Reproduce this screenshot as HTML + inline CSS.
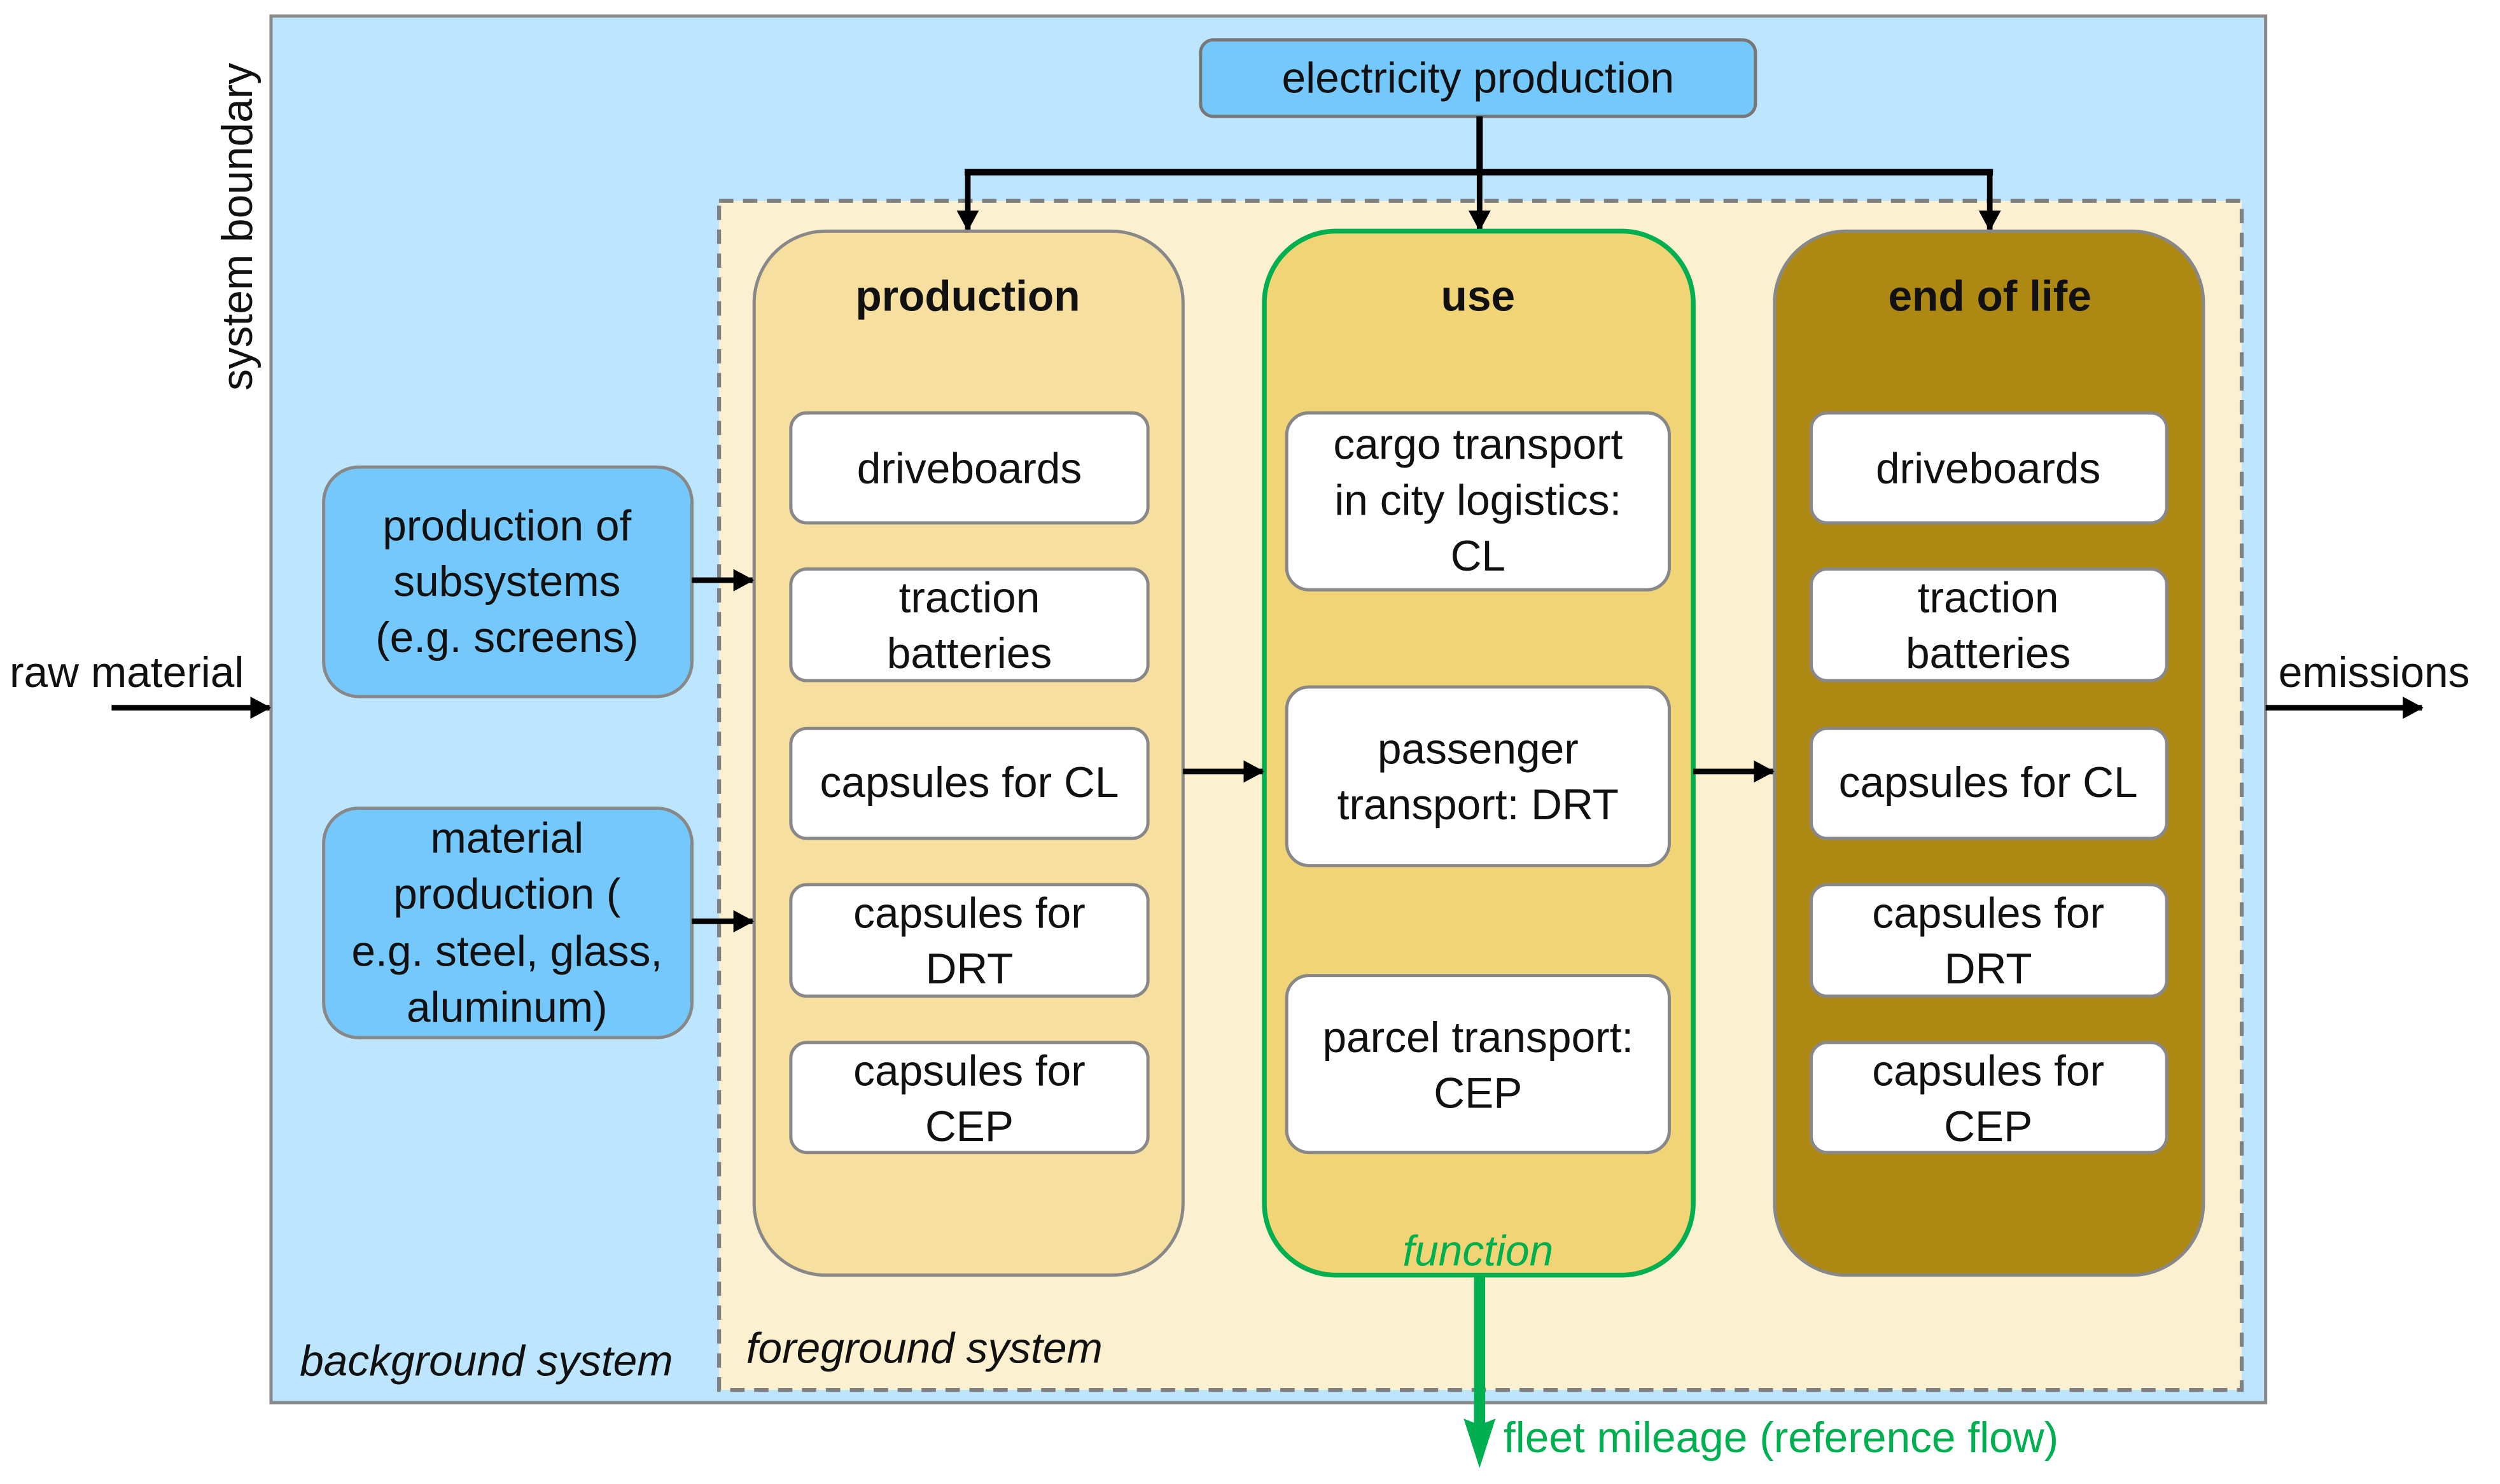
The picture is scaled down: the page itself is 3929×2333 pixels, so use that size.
<!DOCTYPE html>
<html><head><meta charset="utf-8"><style>
html,body{margin:0;padding:0;background:#fff;}
svg{display:block;}
text{font-family:"Liberation Sans",sans-serif;font-size:27px;fill:#111;}
</style></head><body>
<svg width="3929" height="2333" viewBox="0 0 1568 931" xmlns="http://www.w3.org/2000/svg">
<defs>
<marker id="a" markerWidth="14" markerHeight="14" refX="12" refY="7" orient="auto" markerUnits="userSpaceOnUse"><path d="M0,0 L13,7 L0,14 Z" fill="#000"/></marker>
</defs>
<rect x="170" y="10" width="1251" height="870" fill="#bde5fd" stroke="#8a8a8a" stroke-width="2"/>
<text transform="translate(158,245) rotate(-90)">system boundary</text>
<rect x="451" y="126" width="955" height="746" fill="#fbf0d0" stroke="#808080" stroke-width="2.5" stroke-dasharray="9,6"/>
<rect x="753" y="25" width="348" height="48" rx="8" fill="#75c8fb" stroke="#777" stroke-width="2"/>
<text x="927" y="58" text-anchor="middle">electricity production</text>
<path d="M928,73 V108 M605,108 H1250" stroke="#000" stroke-width="4" fill="none"/>
<g stroke="#000" stroke-width="3.5" fill="none" marker-end="url(#a)">
<path d="M607,108 V144"/><path d="M928,108 V144"/><path d="M1248,108 V144"/>
</g>
<rect x="473" y="145" width="269" height="655" rx="45" fill="#f7dfa0" stroke="#888" stroke-width="2"/>
<rect x="793" y="145" width="269" height="655" rx="45" fill="#f0d475" stroke="#00b050" stroke-width="3"/>
<rect x="1113" y="145" width="269" height="655" rx="45" fill="#ad8914" stroke="#888" stroke-width="2"/>
<text x="607" y="195" text-anchor="middle" font-weight="bold">production</text>
<text x="927" y="195" text-anchor="middle" font-weight="bold">use</text>
<text x="1248" y="195" text-anchor="middle" font-weight="bold">end of life</text>
<g fill="#fff" stroke="#888" stroke-width="2">
<rect x="496" y="259" width="224" height="69" rx="10"/>
<rect x="496" y="357" width="224" height="70" rx="10"/>
<rect x="496" y="457" width="224" height="69" rx="10"/>
<rect x="496" y="555" width="224" height="70" rx="10"/>
<rect x="496" y="654" width="224" height="69" rx="10"/>
<rect x="1136" y="259" width="223" height="69" rx="10"/>
<rect x="1136" y="357" width="223" height="70" rx="10"/>
<rect x="1136" y="457" width="223" height="69" rx="10"/>
<rect x="1136" y="555" width="223" height="70" rx="10"/>
<rect x="1136" y="654" width="223" height="69" rx="10"/>
<rect x="807" y="259" width="240" height="111" rx="14"/>
<rect x="807" y="431" width="240" height="112" rx="14"/>
<rect x="807" y="612" width="240" height="111" rx="14"/>
</g>
<g text-anchor="middle">
<text x="608" y="303">driveboards</text>
<text x="608" y="384">traction</text><text x="608" y="419">batteries</text>
<text x="608" y="500">capsules for CL</text>
<text x="608" y="582">capsules for</text><text x="608" y="617">DRT</text>
<text x="608" y="681">capsules for</text><text x="608" y="716">CEP</text>
<text x="1247" y="303">driveboards</text>
<text x="1247" y="384">traction</text><text x="1247" y="419">batteries</text>
<text x="1247" y="500">capsules for CL</text>
<text x="1247" y="582">capsules for</text><text x="1247" y="617">DRT</text>
<text x="1247" y="681">capsules for</text><text x="1247" y="716">CEP</text>
<text x="927" y="288">cargo transport</text><text x="927" y="323">in city logistics:</text><text x="927" y="358">CL</text>
<text x="927" y="479">passenger</text><text x="927" y="514">transport: DRT</text>
<text x="927" y="660">parcel transport:</text><text x="927" y="695">CEP</text>
</g>
<rect x="203" y="293" width="231" height="144" rx="22" fill="#75c8fb" stroke="#888" stroke-width="2"/>
<rect x="203" y="507" width="231" height="144" rx="22" fill="#75c8fb" stroke="#888" stroke-width="2"/>
<g text-anchor="middle">
<text x="318" y="339">production of</text><text x="318" y="374">subsystems</text><text x="318" y="409">(e.g. screens)</text>
<text x="318" y="535">material</text><text x="318" y="570">production (</text><text x="318" y="606">e.g. steel, glass,</text><text x="318" y="641">aluminum)</text>
</g>
<g stroke="#000" stroke-width="3.5" fill="none" marker-end="url(#a)">
<path d="M434,364 H472"/>
<path d="M434,578 H472"/>
<path d="M742,484 H792"/>
<path d="M1062,484 H1112"/>
<path d="M70,444 H169"/>
<path d="M1421,444 H1519"/>
</g>
<text x="6" y="431">raw material</text>
<text x="1429" y="431">emissions</text>
<text x="188" y="863" font-style="italic">background system</text>
<text x="468" y="855" font-style="italic">foreground system</text>
<text x="927" y="794" text-anchor="middle" font-style="italic" style="fill:#00b050">function</text>
<path d="M928,800 V895" stroke="#00b050" stroke-width="7"/>
<path d="M918,890 L928,894 L938,890 L928,921 Z" fill="#00b050"/>
<text x="943" y="911" style="fill:#00b050">fleet mileage (reference flow)</text>
</svg>
</body></html>
